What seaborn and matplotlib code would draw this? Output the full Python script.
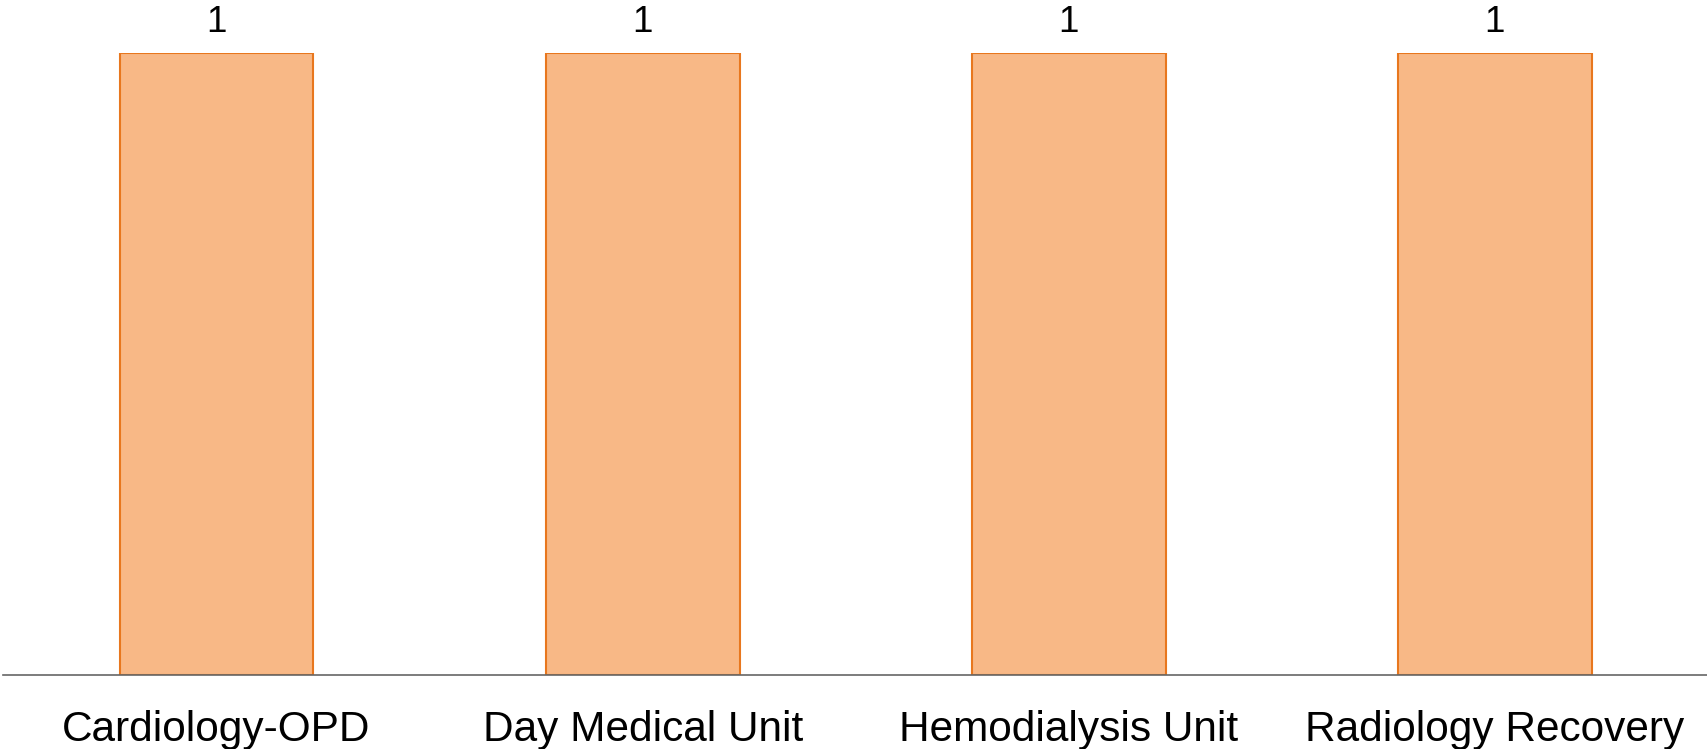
import pandas as pd
import matplotlib.pyplot as plt
import seaborn as sns

departments = ['Cardiology-OPD', 'Day Medical Unit', 'Hemodialysis Unit', 'Radiology Recovery']
counts = [1, 1, 1, 1]


def plot_counts(data):
    sns.set_style('white')
    plt.rcParams['font.family'] = ['Liberation Sans', 'DejaVu Sans']

    fig = plt.figure(figsize=(17.08, 7.49), dpi=100)
    ax = fig.add_axes([0.002, 0.0988, 0.998, 0.8305])

    sns.barplot(data=data, x='department', y='count', ax=ax, color='#F8B886',
                saturation=1, width=0.455, edgecolor='#E8771E', linewidth=1.5)

    # value labels on top of each bar
    for container in ax.containers:
        ax.bar_label(container, fmt='%d', padding=9, fontsize=26.5, color='black')

    ax.set_ylim(0, 1)
    ax.set_xlim(-0.5, 3.5)
    ax.set_xlabel('')
    ax.set_ylabel('')
    ax.set_yticks([])
    ax.tick_params(axis='x', length=0, labelsize=30.5, labelcolor='black', pad=25)
    for side in ['top', 'right', 'left']:
        ax.spines[side].set_visible(False)
    ax.spines['bottom'].set_color('#666666')
    ax.spines['bottom'].set_linewidth(1.2)

    fig.savefig('out.png', dpi=100)


if __name__ == "__main__":
    df = pd.DataFrame({'department': departments, 'count': counts})
    plot_counts(df)
